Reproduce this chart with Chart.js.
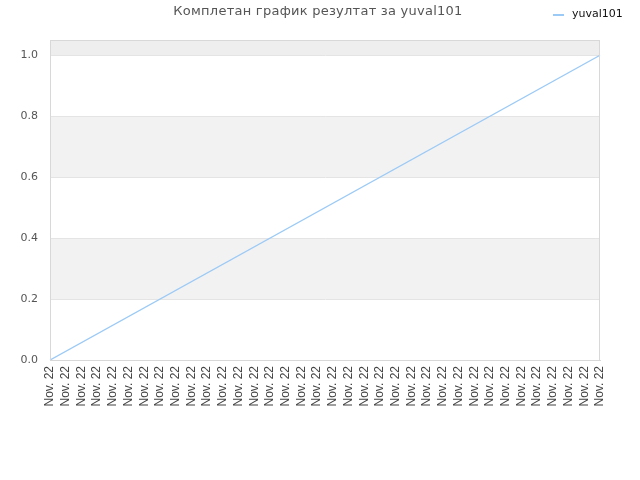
<!DOCTYPE html>
<html>
<head>
<meta charset="utf-8">
<script src="https://cdn.jsdelivr.net/npm/chart.js"></script>
<style>
  html, body { margin: 0; padding: 0; background: #fff; }
  #wrap { width: 640px; height: 480px; }
</style>
</head>
<body>
<div id="wrap"><canvas id="chart" width="640" height="480"></canvas></div>
<script>
// data: a straight run from 0 at the first day to 1 at the last
const titleText = "Комплетан график резултат за yuval101";
const seriesName = "yuval101";
const categories = Array(36).fill("Nov. 22");
const values = [0].concat(Array(34).fill(null), [1]);
const yTicks = [0, 0.2, 0.4, 0.6, 0.8, 1.0];
const yMax = 1.05;
const lineColor = "#9ccaf6";

// alternating background bands, frame, title and legend
const decor = {
  id: "decor",
  beforeDraw(chart) {
    const { ctx, chartArea: a, scales: { y } } = chart;
    const stops = yTicks.concat([yMax]);
    ctx.save();
    for (let i = 0; i < stops.length - 1; i++) {
      if (i % 2 === 0) continue;
      const top = y.getPixelForValue(stops[i + 1]);
      const bot = y.getPixelForValue(stops[i]);
      ctx.fillStyle = i === stops.length - 2 ? "#eeeeee" : "#f2f2f2";
      ctx.fillRect(a.left, top, a.right - a.left, bot - top);
    }
    ctx.restore();
  },
  afterDraw(chart) {
    const { ctx, chartArea: a } = chart;
    ctx.save();
    ctx.strokeStyle = "#d8d8d8";
    ctx.lineWidth = 1;
    ctx.strokeRect(a.left + 0.5, a.top + 0.5, a.right - a.left - 1, a.bottom - a.top);
    // title
    ctx.fillStyle = "#555";
    ctx.font = "13px 'DejaVu Sans'";
    ctx.letterSpacing = "0.25px";
    ctx.textAlign = "center";
    ctx.textBaseline = "middle";
    ctx.fillText(titleText, 318, 12);
    // legend
    ctx.letterSpacing = "0px";
    ctx.fillStyle = lineColor;
    ctx.fillRect(553, 14, 11, 2);
    ctx.fillStyle = "#111";
    ctx.font = "11px 'DejaVu Sans'";
    ctx.textAlign = "left";
    ctx.fillText(seriesName, 572, 14);
    ctx.restore();
  }
};

new Chart(document.getElementById("chart"), {
  type: "line",
  data: {
    labels: categories,
    datasets: [{
      label: seriesName,
      data: values,
      borderColor: lineColor,
      backgroundColor: lineColor,
      borderWidth: 1.4,
      pointRadius: 0,
      spanGaps: true,
      tension: 0
    }]
  },
  options: {
    responsive: false,
    animation: false,
    layout: { padding: { left: 0, right: 40, top: 40, bottom: 0 } },
    plugins: {
      title: { display: false },
      tooltip: { enabled: false },
      legend: { display: false }
    },
    scales: {
      x: {
        offset: false,
        grid: { display: false, drawTicks: false },
        border: { color: "#d8d8d8" },
        ticks: {
          autoSkip: false,
          maxRotation: 90,
          minRotation: 90,
          color: "#444",
          padding: 6,
          font: { family: "Liberation Sans", size: 12 }
        },
        afterFit(s) { s.height = 120; }
      },
      y: {
        min: 0,
        max: yMax,
        grid: { color: "#e4e4e4", drawTicks: false },
        border: { color: "#d8d8d8" },
        ticks: {
          stepSize: 0.2,
          includeBounds: false,
          color: "#555",
          padding: 12,
          font: { family: "DejaVu Sans", size: 11 },
          callback: v => v.toFixed(1)
        },
        afterFit(s) { s.width = 50; }
      }
    }
  },
  plugins: [decor]
});
</script>
</body>
</html>
